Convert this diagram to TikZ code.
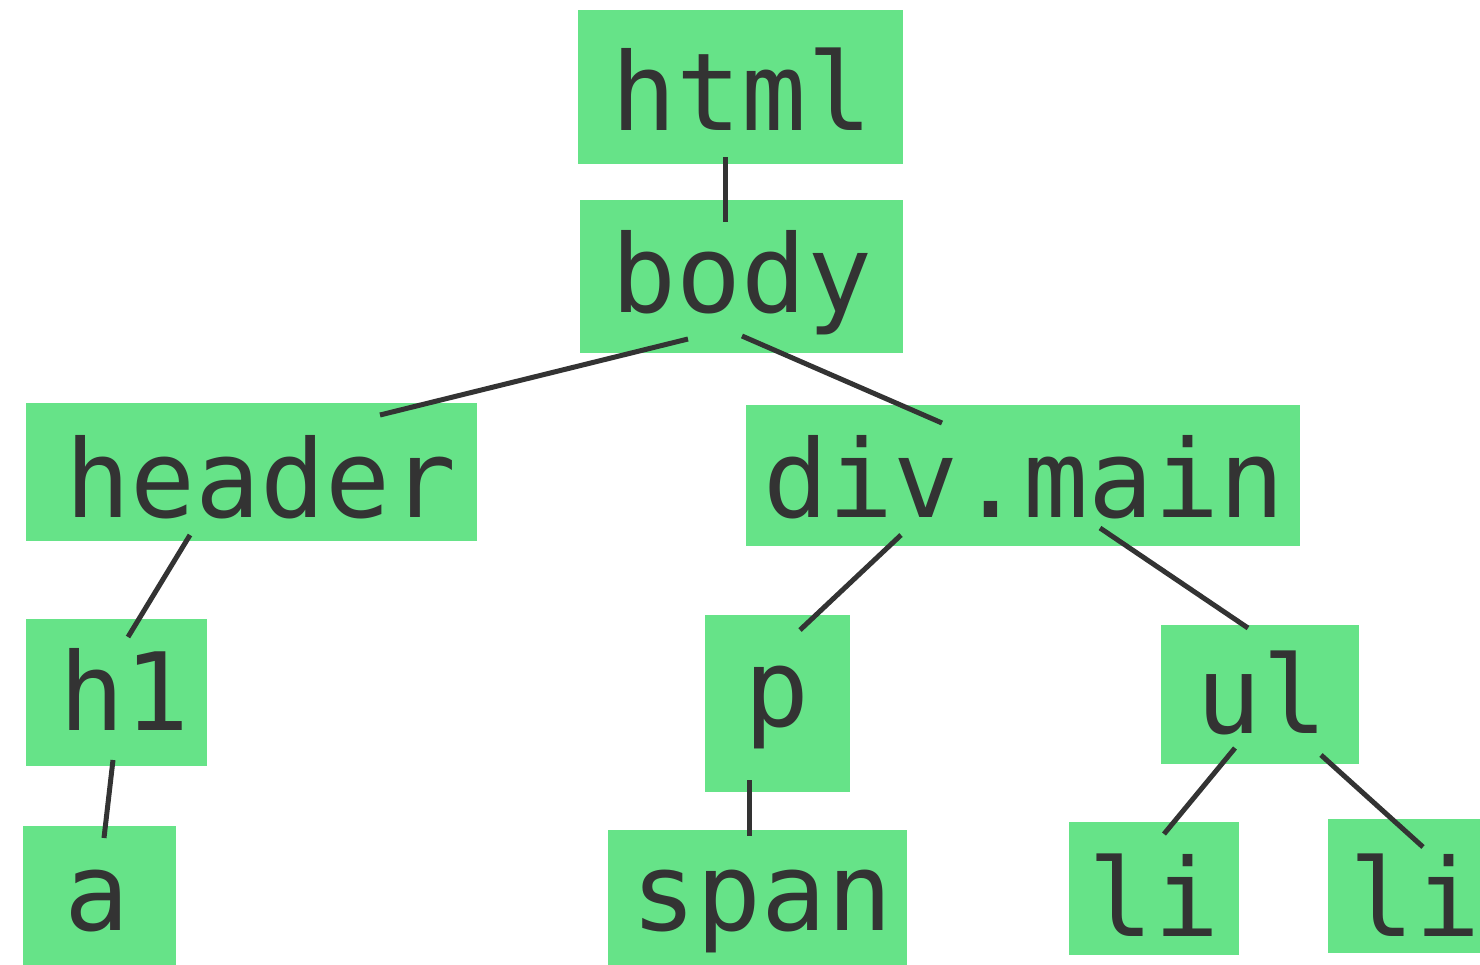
\documentclass[tikz,border=0pt]{standalone}
\usepackage{fontspec}
\newfontfamily\treefont{DejaVu Sans Mono}
\definecolor{boxgreen}{RGB}{102,227,136}
\definecolor{ink}{RGB}{51,51,51}
\tikzset{
  box/.style={fill=boxgreen, draw=none, inner sep=0pt, outer sep=0pt},
  lbl/.style={anchor=base, inner sep=0pt, text=ink, font=\treefont\fontsize{54}{54}\selectfont},
  edge/.style={draw=ink, line width=2.5pt},
}
\begin{document}
\begin{tikzpicture}[x=0.5pt,y=-0.5pt]
\useasboundingbox (0,0) rectangle (1480,965);
% boxes
\node[box, minimum width=162.5pt, minimum height=77pt] (html) at (740.5,87) {};
\node[box, minimum width=161.5pt, minimum height=76.5pt] (body) at (741.5,276.5) {};
\node[box, minimum width=225.5pt, minimum height=69pt] (header) at (251.5,472) {};
\node[box, minimum width=277pt, minimum height=70.5pt] (divmain) at (1023,475.5) {};
\node[box, minimum width=90.5pt, minimum height=73.5pt] (h1) at (116.5,692.5) {};
\node[box, minimum width=72.5pt, minimum height=88.5pt] (p) at (777.5,703.5) {};
\node[box, minimum width=99pt, minimum height=69.5pt] (ul) at (1259.5,694.5) {};
\node[box, minimum width=76.5pt, minimum height=75pt] (a) at (99.5,901) {};
\node[box, minimum width=149.5pt, minimum height=73pt] (span) at (757.5,903) {};
\node[box, minimum width=85pt, minimum height=66.5pt] (lione) at (1153.5,888) {};
\node[box, minimum width=90pt, minimum height=67pt] (litwo) at (1418,886) {};
% labels
\node[lbl] (thtml) at (742,130) {html};
\node[lbl] (tbody) at (742,312) {body};
\node[lbl] (theader) at (261,517) {header};
\node[lbl] (tdiv) at (1024,517) {div.main};
\node[lbl] (th1) at (125,730) {h1};
\node[lbl] (tp) at (777,726) {p};
\node[lbl] (tul) at (1262,733) {ul};
\node[lbl] (ta) at (97,930) {a};
\node[lbl] (tspan) at (762,930) {span};
\node[lbl] (tlione) at (1154,936) {li};
\node[lbl] (tlitwo) at (1415,936) {li};
% connector end points
\coordinate (e1a) at (725,157); \coordinate (e1b) at (725,222);
\coordinate (e2a) at (688,339); \coordinate (e2b) at (380,415);
\coordinate (e3a) at (742,336); \coordinate (e3b) at (942,423);
\coordinate (e4a) at (190,535); \coordinate (e4b) at (128,637);
\coordinate (e5a) at (113,760); \coordinate (e5b) at (104,838);
\coordinate (e6a) at (901,535); \coordinate (e6b) at (800,630);
\coordinate (e7a) at (1100,528); \coordinate (e7b) at (1248,628);
\coordinate (e8a) at (749,780); \coordinate (e8b) at (749,836);
\coordinate (e9a) at (1235,748); \coordinate (e9b) at (1164,834);
\coordinate (e10a) at (1321,755); \coordinate (e10b) at (1423,847);
\draw[edge] (e1a) -- (e1b);
\draw[edge] (e2a) -- (e2b);
\draw[edge] (e3a) -- (e3b);
\draw[edge] (e4a) -- (e4b);
\draw[edge] (e5a) -- (e5b);
\draw[edge] (e6a) -- (e6b);
\draw[edge] (e7a) -- (e7b);
\draw[edge] (e8a) -- (e8b);
\draw[edge] (e9a) -- (e9b);
\draw[edge] (e10a) -- (e10b);
\end{tikzpicture}
\end{document}
